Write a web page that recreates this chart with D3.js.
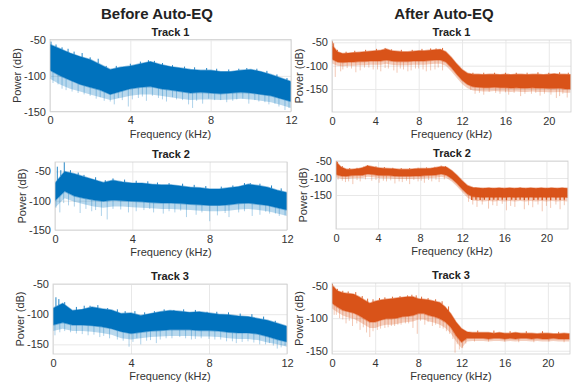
<!DOCTYPE html>
<html>
<head>
<meta charset="utf-8">
<script src="https://cdn.jsdelivr.net/npm/d3@7"></script>
<style>
body{margin:0;background:#fff;}
svg{font-family:"Liberation Sans",Arial,sans-serif;}
</style>
</head>
<body>
<svg id="chart" width="575" height="387"></svg>
<script>
// frequency bins (kHz)
var leftFreq = [0,0.5,1,1.5,2,2.5,3,3.5,4,4.5,5,5.5,6,6.5,7,7.5,8,8.5,9,9.5,10,10.5,11,11.5,12];
var rightFreq = [0,0.5,1,1.5,2,2.5,3,3.5,4,4.5,5,5.5,6,6.5,7,7.5,8,8.5,9,9.5,10,10.5,11,11.5,12,12.5,13,13.5,14,14.5,15,15.5,16,16.5,17,17.5,18,18.5,19,19.5,20,20.5,21,21.5,22];

var leftTicks = [0,4,8,12];
var rightTicks = [0,4,8,12,16,20];
var powerTicks = [-50,-100,-150];

// Before Auto-EQ : upper / lower edge of the dense band, lower edge of the faint haze (dB)
var b1Hi = [-56,-62,-68,-73,-77,-84,-91,-88,-86,-83,-80,-84,-87,-89,-91,-92,-92,-94,-94,-92,-91,-94,-98,-103,-108];
var b1Lo = [-92,-100,-106,-112,-116,-120,-126,-122,-118,-116,-115,-118,-120,-122,-124,-123,-124,-125,-124,-123,-124,-126,-128,-132,-136];
var b1Fade = [-104,-112,-118,-122,-126,-130,-134,-131,-128,-126,-126,-128,-130,-132,-134,-133,-133,-134,-133,-132,-133,-135,-137,-141,-145];
var b2Hi = [-70,-50,-54,-59,-64,-69,-65,-68,-70,-70,-72,-73,-73,-75,-77,-78,-80,-80,-78,-76,-72,-74,-77,-82,-86];
var b2Lo = [-100,-84,-92,-96,-99,-101,-99,-100,-101,-102,-103,-104,-104,-105,-106,-107,-108,-108,-107,-105,-104,-106,-108,-112,-116];
var b2Fade = [-112,-96,-102,-106,-110,-112,-110,-110,-111,-112,-113,-114,-114,-115,-116,-117,-118,-118,-117,-115,-114,-116,-118,-122,-126];
var b3Hi = [-90,-82,-94,-92,-88,-91,-93,-99,-98,-102,-99,-96,-94,-95,-97,-96,-98,-100,-101,-103,-104,-107,-110,-115,-120];
var b3Lo = [-118,-114,-118,-118,-119,-121,-124,-129,-132,-130,-128,-127,-126,-126,-126,-127,-127,-128,-130,-131,-131,-133,-137,-142,-146];
var b3Fade = [-128,-124,-128,-128,-129,-131,-134,-140,-142,-140,-138,-137,-136,-136,-136,-137,-137,-138,-140,-141,-141,-143,-147,-150,-154];

// After Auto-EQ
var a1Hi = [-55,-70,-74,-73,-72,-71,-70,-69,-68,-67,-64,-68,-69,-70,-70,-69,-68,-68,-67,-66,-65,-70,-82,-96,-108,-116,-118,-118,-119,-118,-118,-119,-118,-119,-118,-118,-119,-118,-118,-119,-118,-117,-118,-118,-119];
var a1Lo = [-86,-92,-93,-92,-92,-91,-91,-90,-90,-90,-88,-90,-91,-91,-91,-90,-90,-90,-89,-88,-88,-92,-104,-118,-131,-140,-145,-146,-147,-147,-146,-147,-147,-148,-147,-148,-148,-147,-148,-148,-149,-149,-148,-150,-150];
var a1Fade = [-95,-100,-101,-100,-100,-99,-99,-98,-98,-98,-96,-98,-99,-99,-99,-98,-98,-98,-97,-96,-96,-100,-112,-126,-139,-148,-153,-154,-155,-155,-154,-155,-155,-156,-155,-156,-156,-155,-156,-156,-157,-157,-156,-158,-158];
var a2Hi = [-52,-68,-74,-74,-73,-70,-64,-67,-70,-71,-72,-73,-74,-74,-74,-73,-72,-72,-71,-69,-66,-68,-78,-92,-108,-122,-128,-129,-130,-129,-130,-129,-130,-129,-130,-129,-130,-129,-130,-129,-130,-129,-130,-129,-130];
var a2Lo = [-90,-94,-95,-93,-92,-92,-88,-90,-92,-93,-93,-94,-95,-95,-95,-94,-94,-93,-92,-91,-88,-92,-102,-116,-133,-148,-155,-156,-157,-156,-157,-156,-157,-156,-157,-156,-157,-156,-157,-156,-157,-156,-157,-156,-157];
var a2Fade = [-98,-102,-103,-101,-100,-100,-96,-98,-100,-101,-101,-102,-103,-103,-103,-102,-102,-101,-100,-99,-96,-100,-110,-125,-142,-158,-166,-168,-169,-168,-169,-168,-169,-168,-169,-168,-169,-168,-169,-168,-169,-168,-169,-168,-169];
var a3Hi = [-49,-58,-61,-62,-63,-67,-72,-77,-74,-72,-71,-70,-69,-68,-67,-67,-70,-71,-72,-74,-76,-83,-93,-106,-116,-121,-122,-122,-122,-122,-123,-122,-123,-123,-122,-123,-123,-123,-124,-123,-123,-124,-124,-123,-124];
var a3Lo = [-77,-83,-88,-90,-92,-96,-101,-106,-106,-103,-101,-101,-100,-98,-97,-96,-93,-93,-96,-98,-101,-106,-114,-127,-137,-131,-131,-131,-131,-132,-131,-131,-132,-131,-132,-131,-131,-132,-131,-132,-132,-131,-132,-132,-132];
var a3Fade = [-85,-91,-96,-99,-101,-105,-110,-115,-115,-112,-110,-110,-109,-107,-106,-105,-102,-102,-105,-107,-110,-115,-123,-136,-146,-136,-135,-135,-135,-136,-135,-135,-136,-135,-136,-135,-135,-136,-135,-136,-136,-135,-136,-136,-136];

// faint downward spikes [kHz, dB]
var b1Dips = [[0.15,-110],[0.4,-112],[0.6,-118],[0.8,-120],[1.1,-122],[1.4,-124],[1.7,-126],[2.0,-128],[2.3,-132],[2.5,-130],[2.7,-135],[3.0,-136],[3.2,-140],[3.4,-131],[3.6,-134],[3.9,-143],[4.1,-133],[4.4,-131],[4.6,-129],[4.8,-135],[5.1,-128],[5.4,-131],[5.6,-133],[5.8,-136],[6.1,-130],[6.3,-133],[6.6,-134],[6.9,-140],[7.1,-145],[7.3,-135],[7.6,-139],[7.9,-132],[8.2,-134],[8.5,-134],[8.8,-137],[9.1,-135],[9.3,-133],[9.6,-132],[9.9,-139],[10.2,-134],[10.4,-136],[10.7,-137],[10.9,-140],[11.2,-139],[11.4,-143],[11.7,-148],[11.9,-145]];
var b2Dips = [[0.05,-112],[0.25,-120],[0.45,-104],[0.7,-108],[1.0,-110],[1.3,-121],[1.6,-114],[1.9,-118],[2.1,-116],[2.4,-126],[2.7,-132],[3.0,-114],[3.4,-115],[3.8,-120],[4.2,-118],[4.6,-116],[4.9,-114],[5.1,-120],[5.6,-122],[5.9,-118],[6.2,-120],[6.5,-117],[6.8,-128],[7.3,-124],[7.6,-120],[8.0,-135],[8.4,-125],[8.8,-121],[9.0,-128],[9.5,-120],[9.8,-118],[10.2,-126],[10.6,-124],[10.9,-119],[11.1,-122],[11.4,-122],[11.6,-126],[11.9,-125]];
var b3Dips = [[0.1,-135],[0.35,-130],[0.6,-128],[0.9,-130],[1.2,-132],[1.5,-133],[1.8,-135],[2.1,-134],[2.4,-138],[2.6,-136],[2.9,-140],[3.3,-142],[3.6,-144],[3.9,-154],[4.1,-146],[4.3,-140],[4.5,-150],[4.8,-144],[5.0,-143],[5.3,-148],[5.5,-142],[5.8,-140],[6.1,-140],[6.5,-138],[6.8,-140],[7.1,-142],[7.3,-141],[7.6,-140],[8.0,-141],[8.3,-142],[8.6,-142],[8.9,-145],[9.2,-145],[9.4,-148],[9.7,-146],[10.0,-145],[10.3,-147],[10.6,-150],[10.9,-150],[11.1,-148],[11.3,-152],[11.5,-157],[11.7,-155],[11.9,-152]];
var a1Dips = [[0.3,-124],[0.8,-112],[1.0,-108],[1.4,-105],[1.8,-106],[2.2,-114],[2.6,-110],[3.0,-104],[3.4,-104],[3.8,-108],[4.2,-108],[4.5,-112],[4.9,-105],[5.2,-106],[5.7,-110],[6.0,-115],[6.3,-106],[6.6,-108],[7.0,-112],[7.3,-110],[7.7,-106],[8.0,-106],[8.4,-108],[8.7,-112],[9.1,-110],[9.5,-108],[9.8,-104],[10.2,-110],[12.8,-152],[13.2,-160],[13.6,-158],[14.0,-162],[14.5,-156],[15.1,-158],[15.5,-160],[16.0,-157],[16.3,-162],[16.8,-158],[17.4,-165],[17.8,-160],[18.4,-160],[18.8,-158],[19.2,-164],[19.6,-160],[20.2,-162],[20.7,-169],[21.0,-165],[21.3,-160],[21.7,-168]];
var a2Dips = [[0.2,-105],[0.6,-108],[0.9,-112],[1.2,-110],[1.6,-118],[2.0,-106],[2.3,-110],[2.8,-104],[3.4,-108],[3.8,-106],[4.1,-114],[4.5,-108],[4.8,-110],[5.2,-107],[5.6,-116],[6.0,-110],[6.3,-112],[6.7,-108],[7.0,-118],[7.4,-106],[7.8,-110],[8.1,-108],[8.4,-114],[8.8,-106],[9.1,-110],[9.5,-105],[9.8,-112],[10.3,-104],[12.6,-170],[13.0,-178],[13.4,-185],[13.9,-178],[14.5,-190],[14.9,-180],[15.3,-182],[15.8,-176],[16.2,-195],[16.6,-182],[17.0,-185],[17.9,-192],[18.3,-180],[18.7,-186],[19.2,-178],[19.6,-198],[20.0,-182],[20.4,-188],[20.9,-178],[21.3,-192],[21.7,-180]];
var a3Dips = [[0.2,-95],[0.4,-95],[0.7,-100],[1.0,-102],[1.3,-108],[1.6,-104],[1.9,-112],[2.3,-108],[2.6,-118],[2.9,-114],[3.2,-122],[3.5,-129],[3.8,-120],[4.2,-118],[4.5,-116],[4.9,-115],[5.2,-114],[5.5,-112],[5.8,-112],[6.1,-110],[6.4,-110],[6.8,-108],[7.1,-108],[7.5,-115],[7.9,-124],[8.2,-104],[8.6,-110],[8.9,-106],[9.3,-112],[9.6,-110],[10.0,-115],[10.3,-116],[10.6,-120],[10.9,-124],[11.2,-132],[11.4,-153],[11.6,-140],[11.8,-148],[12.1,-146],[12.4,-139],[13.2,-136],[14.5,-136],[16.0,-136],[17.3,-137],[18.7,-137],[20.1,-136],[21.5,-137]];

// upward spikes [kHz, dB]
var b1Peaks = [[0.05,-52],[0.3,-56],[0.6,-60],[0.9,-62],[1.2,-66],[1.6,-68],[2.0,-74],[2.4,-76],[2.8,-86],[3.3,-86],[4.0,-83],[4.5,-80],[4.9,-78],[5.2,-79],[5.6,-82],[6.1,-85],[6.7,-87],[7.2,-88],[7.8,-89],[8.3,-90],[8.9,-91],[9.4,-90],[9.8,-89],[10.3,-90],[10.8,-93],[11.3,-98],[11.8,-103]];
var b2Peaks = [[0.12,-42],[0.3,-48],[0.48,-33],[0.8,-48],[1.2,-52],[1.5,-56],[2.1,-60],[2.6,-65],[3.0,-62],[3.6,-64],[4.2,-66],[4.8,-67],[5.3,-69],[5.9,-70],[6.6,-71],[7.2,-73],[7.8,-75],[8.6,-76],[9.2,-74],[9.8,-70],[10.1,-70],[10.6,-71],[11.2,-74],[11.7,-79]];
var b3Peaks = [[0.15,-72],[0.3,-75],[0.6,-80],[1.2,-88],[1.6,-86],[1.9,-86],[2.3,-85],[2.8,-90],[3.3,-92],[3.7,-95],[4.2,-95],[4.7,-97],[5.2,-95],[5.7,-92],[6.2,-93],[6.7,-92],[7.3,-93],[7.9,-96],[8.4,-96],[9.0,-97],[9.6,-99],[10.2,-100],[10.8,-104],[11.4,-111]];
var a1Peaks = [[0.05,-48],[0.15,-52],[0.5,-66],[1.3,-70],[2.1,-68],[3.1,-66],[4.1,-64],[4.9,-62],[5.5,-65],[6.4,-66],[7.4,-66],[8.3,-64],[9.1,-63],[9.6,-63],[10.2,-62],[13.0,-115],[14.0,-115],[15.0,-115],[16.0,-115],[17.0,-115],[18.0,-115],[19.0,-114],[20.0,-115],[21.0,-114],[21.8,-115]];
var a2Peaks = [[0.05,-50],[0.15,-52],[0.6,-65],[1.3,-71],[2.0,-70],[2.6,-67],[3.0,-62],[3.8,-66],[4.6,-68],[5.4,-70],[6.2,-71],[7.0,-71],[7.8,-70],[8.6,-69],[9.4,-67],[10.0,-64],[10.4,-65]];
var a3Peaks = [[0.05,-47],[0.2,-52],[0.5,-55],[1.0,-58],[1.5,-59],[2.2,-60],[2.8,-66],[3.3,-70],[3.8,-71],[4.4,-69],[4.9,-68],[5.6,-67],[6.3,-66],[7.0,-65],[7.4,-64],[7.8,-65],[8.3,-67],[8.9,-69],[9.6,-71],[10.2,-74],[10.8,-82],[13.5,-119],[15.0,-119],[16.5,-120],[18.0,-120],[19.5,-120],[21.0,-121]];

// comb teeth in Track 2 after EQ [kHz, dB]
var a2Teeth = [[12.9,-165],[13.3,-164],[13.7,-165],[14.1,-164],[14.6,-165],[15.0,-164],[15.4,-165],[15.8,-164],[16.2,-165],[16.7,-164],[17.1,-165],[17.5,-164],[17.9,-165],[18.3,-164],[18.8,-165],[19.2,-164],[19.6,-165],[20.0,-164],[20.4,-165],[20.9,-164],[21.3,-165],[21.7,-164]];

var blue = "#0072BD";
var orange = "#D95319";

var panels = [
  {title:"Track 1", freq:leftFreq, hi:b1Hi, lo:b1Lo, fade:b1Fade, dips:b1Dips, peaks:b1Peaks, teeth:[], color:blue,
   box:[50,39.5,291,111.5], xMax:12, yDom:[-150,-49], xt:leftTicks},
  {title:"Track 2", freq:leftFreq, hi:b2Hi, lo:b2Lo, fade:b2Fade, dips:b2Dips, peaks:b2Peaks, teeth:[], color:blue,
   box:[55,162,287,230], xMax:12, yDom:[-150,-34], xt:leftTicks},
  {title:"Track 3", freq:leftFreq, hi:b3Hi, lo:b3Lo, fade:b3Fade, dips:b3Dips, peaks:b3Peaks, teeth:[], color:blue,
   box:[53,284,287,354], xMax:12, yDom:[-166,-50], xt:leftTicks},
  {title:"Track 1", freq:rightFreq, hi:a1Hi, lo:a1Lo, fade:a1Fade, dips:a1Dips, peaks:a1Peaks, teeth:[], color:orange,
   box:[332,40,571,112], xMax:22.05, yDom:[-199,-45], xt:rightTicks},
  {title:"Track 2", freq:rightFreq, hi:a2Hi, lo:a2Lo, fade:a2Fade, dips:a2Dips, peaks:a2Peaks, teeth:a2Teeth, color:orange,
   box:[336,161,568,229], xMax:22.05, yDom:[-250,-50], xt:rightTicks},
  {title:"Track 3", freq:rightFreq, hi:a3Hi, lo:a3Lo, fade:a3Fade, dips:a3Dips, peaks:a3Peaks, teeth:[], color:orange,
   box:[332,283,570,354], xMax:22.05, yDom:[-155,-46], xt:rightTicks}
];

var svg = d3.select("#chart");

svg.append("text").attr("x",157).attr("y",19).attr("text-anchor","middle")
  .attr("font-size","15px").attr("font-weight","bold").attr("fill","#222").text("Before Auto-EQ");
svg.append("text").attr("x",444).attr("y",19).attr("text-anchor","middle")
  .attr("font-size","15px").attr("font-weight","bold").attr("fill","#222").text("After Auto-EQ");

panels.forEach(function(p, k){
  var x0 = p.box[0], y0 = p.box[1], x1 = p.box[2], y1 = p.box[3];
  var x = d3.scaleLinear().domain([0, p.xMax]).range([x0, x1]);
  var y = d3.scaleLinear().domain(p.yDom).range([y1, y0]);
  var hiAt = d3.scaleLinear().domain(p.freq).range(p.hi);
  var loAt = d3.scaleLinear().domain(p.freq).range(p.lo);

  var g = svg.append("g");

  // grid
  g.append("g").attr("transform", `translate(0,${y1})`)
    .call(d3.axisBottom(x).tickValues(p.xt).tickSize(-(y1-y0)).tickFormat(""))
    .call(g => g.select(".domain").remove())
    .call(g => g.selectAll("line").attr("stroke","#e8e8e8"));
  g.append("g").attr("transform", `translate(${x0},0)`)
    .call(d3.axisLeft(y).tickValues(powerTicks).tickSize(-(x1-x0)).tickFormat(""))
    .call(g => g.select(".domain").remove())
    .call(g => g.selectAll("line").attr("stroke","#e8e8e8"));

  svg.append("clipPath").attr("id","clip"+k)
    .append("rect").attr("x",x0).attr("y",y0).attr("width",x1-x0).attr("height",y1-y0);
  var plot = g.append("g").attr("clip-path",`url(#clip${k})`);

  // faint haze under the dense band
  var haze = d3.area()
    .x((d,i) => x(p.freq[i]))
    .y0((d,i) => y(p.fade[i]))
    .y1((d,i) => y(p.lo[i]));
  plot.append("path").datum(p.lo)
    .attr("d", haze)
    .attr("fill", p.color).attr("fill-opacity",0.28);

  // faint spikes below the band
  plot.append("g").attr("stroke",p.color).attr("stroke-opacity",0.32).attr("stroke-width",1)
    .selectAll("line").data(p.dips).join("line")
    .attr("x1",d => x(d[0])).attr("x2",d => x(d[0]))
    .attr("y1",d => y(loAt(d[0]))).attr("y2",d => y(d[1]));

  // dense band
  var area = d3.area()
    .x((d,i) => x(p.freq[i]))
    .y0((d,i) => y(p.lo[i]))
    .y1((d,i) => y(p.hi[i]));
  plot.append("path").datum(p.hi)
    .attr("d", area)
    .attr("fill", p.color)
    .attr("stroke", p.color).attr("stroke-opacity",0.45).attr("stroke-width",1.4)
    .attr("stroke-linejoin","round");

  // upward spikes
  plot.append("g").attr("stroke",p.color).attr("stroke-width",1).attr("stroke-opacity",0.85)
    .selectAll("line").data(p.peaks).join("line")
    .attr("x1",d => x(d[0])).attr("x2",d => x(d[0]))
    .attr("y1",d => y(hiAt(d[0]))).attr("y2",d => y(d[1]));

  // comb teeth
  plot.append("g").attr("stroke",p.color).attr("stroke-width",1.3)
    .selectAll("line").data(p.teeth).join("line")
    .attr("x1",d => x(d[0])).attr("x2",d => x(d[0]))
    .attr("y1",d => y(hiAt(d[0]))).attr("y2",d => y(d[1]));

  // box
  g.append("rect").attr("x",x0).attr("y",y0).attr("width",x1-x0).attr("height",y1-y0)
    .attr("fill","none").attr("stroke","#cfcfcf").attr("stroke-width",0.8);

  // axes labels
  g.append("g").attr("transform", `translate(0,${y1})`)
    .call(d3.axisBottom(x).tickValues(p.xt).tickSize(0).tickPadding(5).tickFormat(d => String(d)))
    .call(g => g.select(".domain").remove())
    .call(g => g.selectAll("text").attr("font-size","11px").attr("fill","#333").attr("font-family",null));
  g.append("g").attr("transform", `translate(${x0},0)`)
    .call(d3.axisLeft(y).tickValues(powerTicks).tickSize(0).tickPadding(4).tickFormat(d => String(d)))
    .call(g => g.select(".domain").remove())
    .call(g => g.selectAll("text").attr("font-size","11px").attr("fill","#333").attr("font-family",null));

  g.append("text").attr("x",(x0+x1)/2).attr("y",y0-4).attr("text-anchor","middle")
    .attr("font-size","11px").attr("font-weight","bold").attr("fill","#222").text(p.title);
  g.append("text").attr("x",(x0+x1)/2).attr("y",y1+26).attr("text-anchor","middle")
    .attr("font-size","11px").attr("fill","#333").text("Frequency (kHz)");
  g.append("text").attr("transform",`translate(${x0-29},${(y0+y1)/2}) rotate(-90)`)
    .attr("text-anchor","middle").attr("font-size","11px").attr("fill","#333").text("Power (dB)");
});
</script>
</body>
</html>
